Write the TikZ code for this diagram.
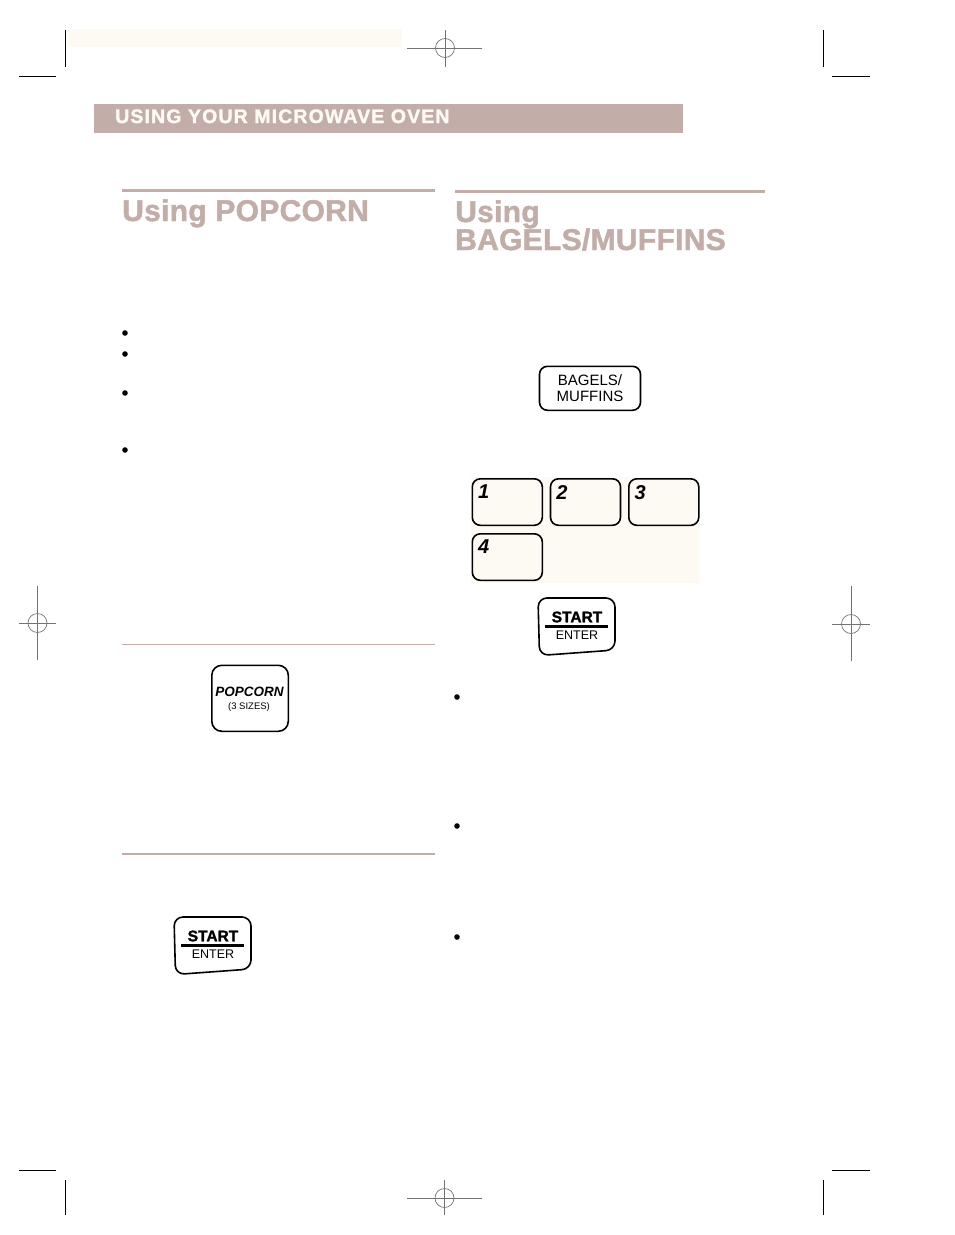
\documentclass[tikz,border=0pt]{standalone}
\usepackage{fontspec}
\setmainfont{Liberation Sans}
\newfontfamily\headfont[BoldFont={Liberation Sans Bold},BoldFeatures={FakeBold=1.6}]{Liberation Sans}
\newfontfamily\bannerfont[BoldFont={Liberation Sans Bold},BoldFeatures={FakeBold=1.6,LetterSpace=5.8}]{Liberation Sans}
\newfontfamily\titlefont[BoldFont={Liberation Sans Bold},BoldFeatures={FakeBold=1.6,LetterSpace=1}]{Liberation Sans}
\usepackage{tikz}
\definecolor{band}{HTML}{C2ADA9}
\definecolor{cream}{HTML}{FDF9F3}
\tikzstyle{head} = [anchor=base west,inner sep=0pt,text=band,font=\titlefont\bfseries\fontsize{30}{30}\selectfont]
\tikzstyle{keybox} = [draw=black,line width=1.6pt,rounded corners=8pt,inner sep=0pt,anchor=north west]
\tikzstyle{numkey} = [keybox,minimum width=70pt,minimum height=46.5pt,fill=cream]
\tikzstyle{digit} = [inner sep=0pt,font=\headfont\bfseries\itshape\fontsize{20}{20}\selectfont]
\tikzstyle{label} = [inner sep=0pt,font=\fontsize{15}{15}\selectfont]
\tikzstyle{bullet} = [circle,fill=black,minimum size=5.6pt,inner sep=0pt]
\tikzstyle{trim} = [draw=black,line width=0.9pt]
\tikzstyle{reg} = [draw=black!55,line width=0.7pt]

\begin{document}
\begin{tikzpicture}[x=1pt,y=-1pt]
	\useasboundingbox (0,0) rectangle (954,1235);
	% tinted areas and rules
	\fill[cream] (68,29) rectangle (402,47);
	\fill[cream] (471,477) rectangle (699,583);
	\fill[band] (94,104) rectangle (683,133);
	\fill[band] (122,189) rectangle (435,192);
	\fill[band] (455,190) rectangle (765,193);
	\fill[band] (122,644) rectangle (435,645);
	\fill[band] (122,853) rectangle (435,855);
	% titles
	\node[inner sep=0pt,anchor=base west,text=cream,font=\bannerfont\bfseries\fontsize{19.5}{19.5}\selectfont] (banner) at (115,123) {USING YOUR MICROWAVE OVEN};
	\node[head] (popcorn) at (122,221) {Using POPCORN};
	\node[head] (using) at (455,222) {Using};
	\node[head] (bagels) at (455,250) {BAGELS/MUFFINS};
	% bullets
	\foreach \pos/\name in {{(125,333)/b1}, {(125,354)/b2}, {(125,393)/b3}, {(125,450)/b4},
	                        {(457,697)/b5}, {(457,826)/b6}, {(457,937)/b7}}
		\node[bullet] (\name) at \pos {};
	% keys
	\node[keybox,minimum width=101pt,minimum height=44pt] (bagelskey) at (538.7,365.5) {};
	\node[label,align=center] at (bagelskey.center) {BAGELS/\\[0.5pt]MUFFINS};
	\node[keybox,minimum width=76.5pt,minimum height=66pt,rounded corners=10pt] (popkey) at (211,664.5) {};
	\node[inner sep=0pt,font=\headfont\bfseries\itshape\fontsize{13.5}{13.5}\selectfont] (poptext) at (249.5,692) {POPCORN};
	\node[inner sep=0pt,font=\fontsize{9.5}{9.5}\selectfont] (popsize) at (249,707.5) {(3 SIZES)};
	\foreach \pos/\name/\num in {{(471.5,478)/k1/1}, {(549.7,478)/k2/2}, {(628,478)/k3/3}, {(471.5,533)/k4/4}}{
		\node[numkey] (\name) at \pos {};
		\node[digit,anchor=north west] at ([xshift=6.5pt,yshift=-7pt]\name.north west) {\num};
	}
	% start keys
	\foreach \x/\y/\name in {174/917/one, 538/598/two}{
		\begin{scope}[shift={(\x,\y)}]
			\draw[line width=1.6pt,rounded corners=9pt] (38,0) -- (77,0) -- (77,52) -- (1.5,57.5) -- (0,0) -- cycle;
			\node[inner sep=0pt,font=\headfont\bfseries\fontsize{15.5}{15.5}\selectfont] (start\name) at (39,19) {START};
			\node[inner sep=0pt,font=\fontsize{12.5}{12.5}\selectfont] (enter\name) at (39,37.5) {ENTER};
			\draw[line width=2.2pt] (7,28.5) -- (70,28.5);
		\end{scope}
	}
	% trim marks
	\foreach \x/\ya/\yb in {65.5/30/67, 823.5/30/67, 65.5/1180/1215, 823.5/1180/1215}
		\draw[trim] (\x,\ya) -- (\x,\yb);
	\foreach \y/\xa/\xb in {76/19/56, 76/832/870, 1170/19/56, 1170/832/870}
		\draw[trim] (\xa,\y) -- (\xb,\y);
	% registration marks
	\foreach \x/\y/\xa/\xb/\ya/\yb in {445/48/407/482/30/67, 37.5/623/19/56/586/660,
	                                   851/624/832/870/586/661, 444.5/1198/407/482/1180/1215}{
		\draw[reg] (\xa,\y) -- (\xb,\y);
		\draw[reg] (\x,\ya) -- (\x,\yb);
		\draw[reg] (\x,\y) circle (9.5);
	}
\end{tikzpicture}
\end{document}
